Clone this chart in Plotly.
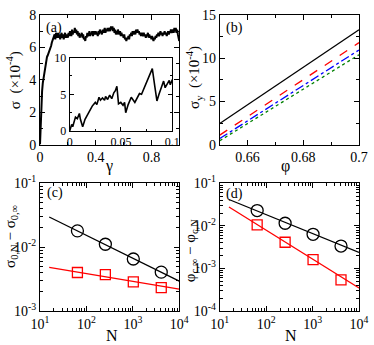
import numpy as np
import plotly.graph_objects as go

# ---------------- data ----------------
# panel (a) main curve: rise then noisy plateau
gamma_rise = [0, 0.003, 0.006, 0.01, 0.015, 0.02, 0.025, 0.03, 0.035, 0.04, 0.045,
              0.05, 0.055, 0.06, 0.065, 0.07, 0.075, 0.08, 0.085, 0.09, 0.095]
sigma_rise = [0, 1.0, 1.8, 2.6, 3.3, 3.8, 4.1, 4.5, 4.7, 5.0, 5.1,
              5.4, 5.5, 5.6, 5.8, 5.9, 6.0, 6.1, 6.3, 6.4, 6.5]
sigma_plateau = [
    6.6, 6.8, 6.5, 6.9, 6.7, 6.6, 6.9, 6.6, 6.8, 6.5,
    6.7, 6.9, 6.6, 6.8, 6.5, 6.7, 6.9, 6.6, 6.8, 6.7,
    6.6, 6.9, 6.7, 7.0, 6.8, 6.7, 7.1, 6.8, 7.0, 6.9,
    7.2, 6.9, 7.1, 6.8, 7.0, 6.7, 6.9, 6.6, 6.8, 6.7,
    6.9, 6.6, 6.8, 6.5, 6.6, 6.4, 6.7, 6.6, 6.9, 6.7,
    6.8, 7.0, 6.7, 6.9, 6.8, 7.0, 6.7, 6.9, 7.0, 6.8,
    7.0, 6.8, 6.9, 6.7, 7.0, 6.8, 7.1, 6.9, 7.0, 6.8,
    7.1, 6.9, 7.0, 7.2, 6.9, 7.1, 7.0, 7.2, 7.0, 7.1,
    7.2, 7.0, 7.3, 7.1, 7.3, 7.0, 7.2, 6.9, 7.1, 6.8,
    7.0, 6.8, 7.1, 6.9, 6.8, 7.0, 6.7, 6.9, 6.7, 6.8,
    6.6, 6.8, 6.5, 6.6, 6.4, 6.6, 6.5, 6.7, 6.5, 6.8,
    6.7, 6.9, 6.7, 7.0, 6.8, 6.9, 7.0, 6.8, 7.1, 6.9,
    7.1, 6.9, 7.0, 6.8, 6.9, 6.7, 6.9, 6.8, 6.7, 6.9,
    6.7, 6.8, 6.6, 6.8, 6.7, 6.9, 6.6, 6.8, 6.6, 6.7,
    6.5, 6.7, 6.6, 6.4, 6.6, 6.5, 6.7, 6.6, 6.8, 6.7,
    6.9, 6.7, 6.8, 7.0, 6.8, 6.9, 6.7, 6.9, 6.8, 7.0,
    6.8, 6.9, 6.7, 6.9, 7.0, 6.8, 7.0, 6.9, 7.1, 6.9,
    7.0, 7.1, 6.9, 7.2, 7.0, 7.2, 6.9, 7.1, 6.8, 6.6,
    6.4]
gamma_plateau = list(np.round(np.linspace(0.1, 1.0, len(sigma_plateau)), 4))
gamma_main = gamma_rise + gamma_plateau
sigma_main = sigma_rise + sigma_plateau

# inset of (a)
gamma_inset = [0, 0.002, 0.003, 0.0045, 0.0057, 0.0075, 0.0095, 0.0105, 0.0117, 0.0127,
               0.015, 0.018, 0.02, 0.022, 0.025, 0.0265, 0.0286, 0.03, 0.032, 0.034,
               0.035, 0.037, 0.039, 0.041, 0.043, 0.0445, 0.046, 0.0476, 0.0498, 0.052,
               0.0535, 0.0546, 0.057, 0.06, 0.0635, 0.066, 0.068, 0.07, 0.072, 0.074,
               0.076, 0.0778, 0.0805, 0.083, 0.085, 0.087, 0.089, 0.0915, 0.093, 0.095,
               0.097, 0.098, 0.1]
sigma_inset = [0, 0.9, 0.6, 1.5, 1.9, 1.7, 2.4, 1.6, 0.8, 0.6,
               1.6, 2.4, 2.9, 3.4, 3.9, 3.6, 4.6, 4.2, 4.5, 4.2,
               4.7, 4.3, 4.9, 4.4, 5.2, 5.5, 6.1, 3.7, 3.9, 3.5,
               3.9, 2.5, 3.6, 4.6, 3.9, 4.6, 5.1, 5.0, 5.7, 6.3,
               7.0, 7.6, 8.5, 6.0, 4.1, 5.0, 5.8, 6.8, 5.9, 6.4,
               6.9, 6.3, 7.0]

# panel (b)
phi_b = [0.65, 0.70]
sy_black = [2.45, 13.3]
sy_red = [1.1, 11.8]
sy_blue = [0.7, 10.95]
sy_green = [0.45, 10.4]

# panels (c), (d)
N_pts = [64, 256, 1024, 4096]
N_fit = [15.8, 10000]
c_circ = [0.0180, 0.0111, 0.00652, 0.00406]
c_sq = [0.00401, 0.00370, 0.00286, 0.00233]
c_fit_circ = [0.0297, 0.00293]
c_fit_sq = [0.00482, 0.00220]
d_circ = [0.0229, 0.01153, 0.00633, 0.00336]
d_sq = [0.0106, 0.00412, 0.00161, 0.000536]
d_fit_circ = [0.0417, 0.00238]
d_fit_sq = [0.0277, 0.000349]

# ---------------- figure ----------------
W, H = 374, 345
ML, MR, MT, MB = 40, 11, 5, 34
PW, PH = W - ML - MR, H - MT - MB
FONT = "Liberation Serif, Times New Roman, serif"


def px(x, y):
    return (x - ML) / PW, (H - MB - y) / PH


fig = go.Figure()

fig.add_trace(go.Scatter(x=gamma_main, y=sigma_main, mode="lines",
                         line=dict(color="black", width=2), xaxis="x", yaxis="y"))
fig.add_trace(go.Scatter(x=gamma_inset, y=sigma_inset, mode="lines",
                         line=dict(color="black", width=1.6), xaxis="x5", yaxis="y5"))

for ys, col, dash in [(sy_black, "black", "solid"), (sy_red, "red", "dash"),
                      (sy_blue, "blue", "dashdot"), (sy_green, "green", "dot")]:
    fig.add_trace(go.Scatter(x=phi_b, y=ys, mode="lines",
                             line=dict(color=col, width=1.3, dash=dash), xaxis="x2", yaxis="y2"))

for xa, ya, fc, fs, pc, ps in [("x3", "y3", c_fit_circ, c_fit_sq, c_circ, c_sq),
                                ("x4", "y4", d_fit_circ, d_fit_sq, d_circ, d_sq)]:
    fig.add_trace(go.Scatter(x=N_fit, y=fc, mode="lines", line=dict(color="black", width=1.3),
                             xaxis=xa, yaxis=ya))
    fig.add_trace(go.Scatter(x=N_fit, y=fs, mode="lines", line=dict(color="red", width=1.3),
                             xaxis=xa, yaxis=ya))
    fig.add_trace(go.Scatter(x=N_pts, y=pc, mode="markers",
                             marker=dict(symbol="circle-open", size=12, color="black",
                                         line=dict(width=1.3)), xaxis=xa, yaxis=ya))
    fig.add_trace(go.Scatter(x=N_pts, y=ps, mode="markers",
                             marker=dict(symbol="square-open", size=10, color="red",
                                         line=dict(width=1.3)), xaxis=xa, yaxis=ya))

common = dict(showline=True, linecolor="black", linewidth=1, mirror="ticks",
              ticks="inside", ticklen=5, tickcolor="black", showgrid=False,
              zeroline=False, tickfont=dict(family=FONT, size=14, color="black"))

xa_dom = [0, (181 - ML) / PW]
xb_dom = [(222 - ML) / PW, 1]
top_dom = [(H - MB - 139) / PH, 1]
bot_dom = [0, (H - MB - 179) / PH]


def lin_minor(d):
    return dict(ticks="inside", ticklen=3, dtick=d, tickcolor="black")


def log_minor(lo, hi):
    vals = [m * 10.0 ** k for k in range(lo, hi) for m in range(2, 10)]
    return dict(ticks="inside", ticklen=3, tickvals=vals, tickcolor="black")


dec_x = [10, 100, 1000, 10000]
dec_x_txt = ["10<sup>1</sup>", "10<sup>2</sup>", "10<sup>3</sup>", "10<sup>4</sup>"]

fig.update_layout(
    width=W, height=H, margin=dict(l=ML, r=MR, t=MT, b=MB),
    paper_bgcolor="white", plot_bgcolor="white", showlegend=False,
    xaxis=dict(domain=xa_dom, range=[0, 1], tickvals=[0, 0.4, 0.8], ticktext=["0", "0.4", "0.8"],
               minor=lin_minor(0.2), anchor="y", **common),
    yaxis=dict(domain=top_dom, range=[0, 8], dtick=2, minor=lin_minor(1), anchor="x", **common),
    xaxis2=dict(domain=xb_dom, range=[0.65, 0.70], tickvals=[0.66, 0.68, 0.70],
                ticktext=["0.66", "0.68", "0.7"], minor=lin_minor(0.01), anchor="y2", **common),
    yaxis2=dict(domain=top_dom, range=[0, 15], dtick=5, minor=lin_minor(2.5), anchor="x2", **common),
    xaxis3=dict(domain=xa_dom, type="log", range=[1, 4], tickvals=dec_x, ticktext=dec_x_txt,
                minor=log_minor(1, 4), anchor="y3", **common),
    yaxis3=dict(domain=bot_dom, type="log", range=[-3, -1], tickvals=[1e-3, 1e-2, 1e-1],
                ticktext=["10<sup>-3</sup>", "10<sup>-2</sup>", "10<sup>-1</sup>"],
                minor=log_minor(-3, -1), anchor="x3", **common),
    xaxis4=dict(domain=xb_dom, type="log", range=[1, 4], tickvals=dec_x, ticktext=dec_x_txt,
                minor=log_minor(1, 4), anchor="y4", **common),
    yaxis4=dict(domain=bot_dom, type="log", range=[-4, -1], tickvals=[1e-4, 1e-3, 1e-2, 1e-1],
                ticktext=["10<sup>-4</sup>", "10<sup>-3</sup>", "10<sup>-2</sup>", "10<sup>-1</sup>"],
                minor=log_minor(-4, -1), anchor="x4", **common),
)

inset_common = dict(common)
inset_common["tickfont"] = dict(family=FONT, size=12, color="black")
inset_common["ticklen"] = 4
fig.update_layout(
    xaxis5=dict(domain=[px(70, 0)[0], px(174, 0)[0]], range=[0, 0.1],
                tickvals=[0, 0.05, 0.1], ticktext=["0", "0.05", "0.1"],
                minor=dict(ticks="inside", ticklen=2, dtick=0.025, tickcolor="black"),
                anchor="y5", **inset_common),
    yaxis5=dict(domain=[px(0, 125)[1], px(0, 49)[1]], range=[0, 10], dtick=5,
                minor=dict(ticks="inside", ticklen=2, dtick=2.5, tickcolor="black"),
                anchor="x5", **inset_common),
)


def ann(x, y, text, size=15, angle=0):
    xp, yp = px(x, y)
    fig.add_annotation(x=xp, y=yp, xref="paper", yref="paper", text=text, showarrow=False,
                       textangle=angle, xanchor="center", yanchor="middle",
                       font=dict(family=FONT, size=size, color="black"))


ann(54, 18, "(a)", 14)
ann(237, 18, "(b)", 14)
ann(55, 189, "(c)", 14)
ann(237, 190, "(d)", 14)

ann(110, 161, "γ", 16)
ann(289, 161, "φ", 16)
ann(113, 336, "N", 16)
ann(294, 336, "N", 16)

ann(14, 72, "σ  (×10<sup>-4</sup>)", 15, -90)
ann(196, 70, "σ<sub>y</sub>  (×10<sup>-4</sup>)", 15, -90)
ann(10, 234, "σ<sub>0,N</sub> − σ<sub>0,∞</sub>", 15, -90)
ann(193, 249, "φ<sub>c,∞</sub> − φ<sub>c,N</sub>", 15, -90)

fig.write_html("out.html", config={"displayModeBar": False},
               post_script="document.body.style.margin='0';document.body.style.overflow='hidden';")
